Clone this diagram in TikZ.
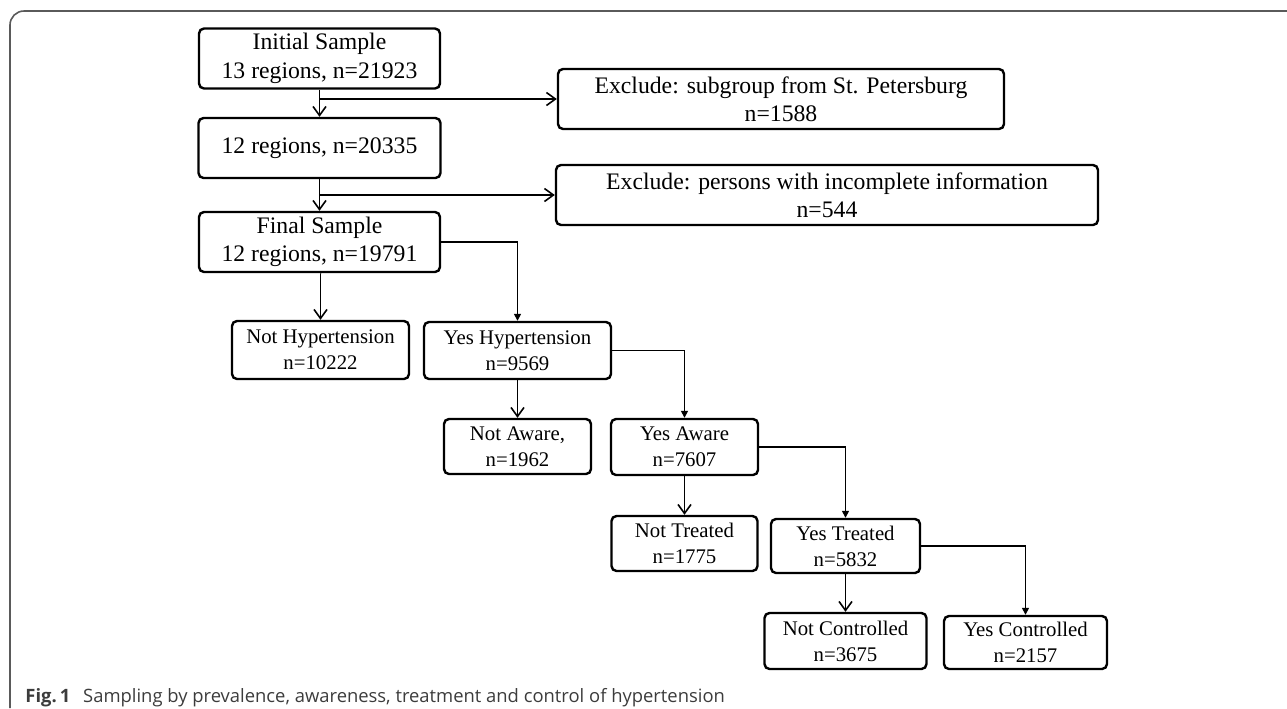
\documentclass[tikz,border=0pt]{standalone}
\usepackage{fontspec}
\setmainfont{Liberation Serif}
\newfontfamily\capfont{Open Sans}
\usetikzlibrary{arrows.meta, positioning, calc}
\definecolor{framegray}{RGB}{90, 90, 90}
\definecolor{captext}{RGB}{60, 60, 60}

\tikzset{
    stepbox/.style={draw, line width=1.2pt, rounded corners=2.5pt, align=center,
        inner sep=0pt, font=\fontsize{10.4}{13}\selectfont},
    topbox/.style={stepbox, font=\fontsize{11.85}{14.2}\selectfont},
    downarr/.style={line width=0.75pt, -{Straight Barb[length=4.5pt, width=6.5pt, line width=0.8pt]}},
    sidearr/.style={line width=0.75pt, -{Triangle[length=3.5pt, width=3.5pt]}}
}

\begin{document}
\begin{tikzpicture}[x=0.5pt, y=-0.5pt]
    \useasboundingbox (0,0) rectangle (1287,708);
    % outer frame, cropped at right and bottom
    \draw[framegray, line width=0.8pt] (10,708) -- (10,25) arc (180:270:14) -- (1287,11);

    % main column
    \node[topbox, minimum width=120.5pt, minimum height=30pt] (init) at (319.5,58.5) {Initial Sample\\13 regions, n=21923};
    \node[topbox, minimum width=121pt, minimum height=30pt] (reg12) at (319.5,148) {12 regions, n=20335};
    \node[topbox, minimum width=120.5pt, minimum height=30pt] (final) at (319.5,242) {Final Sample\\12 regions, n=19791};

    % exclusions
    \node[topbox, minimum width=223pt, minimum height=30pt] (excl1) at (781,99) {Exclude: subgroup from St. Petersburg\\n=1588};
    \node[topbox, minimum width=271pt, minimum height=30pt] (excl2) at (827,195) {Exclude: persons with incomplete information\\n=544};

    % branches
    \node[stepbox, minimum width=88.5pt, minimum height=29pt] (nohyp) at (320.5,350) {Not Hypertension\\n=10222};
    \node[stepbox, minimum width=93.5pt, minimum height=28.5pt] (yeshyp) at (517.5,350.5) {Yes Hypertension\\n=9569};
    \node[stepbox, minimum width=73.5pt, minimum height=27.5pt] (noaware) at (517.5,446.5) {Not Aware,\\n=1962};
    \node[stepbox, minimum width=73.5pt, minimum height=28pt] (yesaware) at (684.5,447) {Yes Aware\\n=7607};
    \node[stepbox, minimum width=73pt, minimum height=27.5pt] (notreat) at (684.5,543.5) {Not Treated\\n=1775};
    \node[stepbox, minimum width=74.5pt, minimum height=27pt] (yestreat) at (845.5,546) {Yes Treated\\n=5832};
    \node[stepbox, minimum width=81pt, minimum height=28pt] (nocontr) at (845.5,641) {Not Controlled\\n=3675};
    \node[stepbox, minimum width=81.5pt, minimum height=26.5pt] (yescontr) at (1025.5,642.5) {Yes Controlled\\n=2157};

    % connectors
    \draw[downarr] (init) -- (reg12);
    \draw[downarr] (init.south |- excl1.west) -- (excl1.west);
    \draw[downarr] (reg12) -- (final);
    \draw[downarr] (reg12.south |- excl2.west) -- (excl2.west);
    \draw[downarr] (final) -- (final.south -| nohyp.north) -- (nohyp.north);
    \draw[sidearr] (final.east) -| (yeshyp.north);
    \draw[downarr] (yeshyp) -- (noaware);
    \draw[sidearr] (yeshyp.east) -| (yesaware.north);
    \draw[downarr] (yesaware) -- (notreat);
    \draw[sidearr] (yesaware.east) -| (yestreat.north);
    \draw[downarr] (yestreat) -- (nocontr);
    \draw[sidearr] (yestreat.east) -| (yescontr.north);

    % caption
    \node[anchor=base west, inner sep=0pt, text=captext, font=\capfont\fontsize{9.2}{11}\selectfont] (cap) at (25,702)
        {\textbf{Fig.\,1}\hspace{0.7em}Sampling by prevalence, awareness, treatment and control of hypertension};
\end{tikzpicture}
\end{document}
